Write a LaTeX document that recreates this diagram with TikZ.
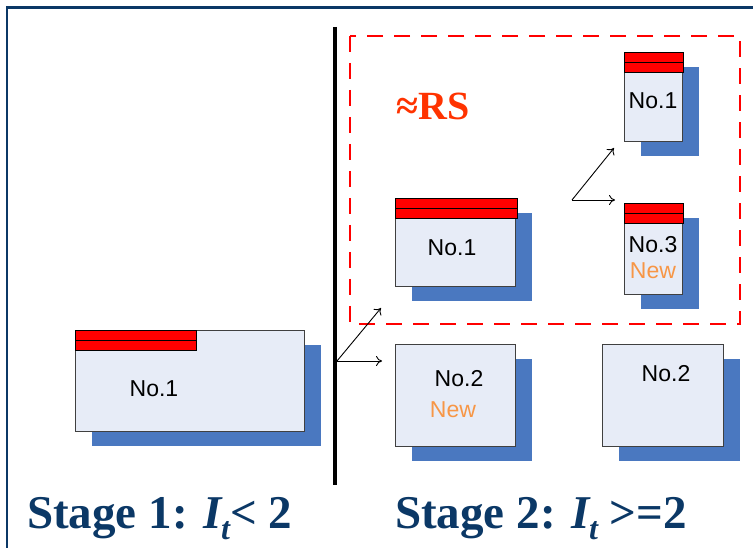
\documentclass[tikz,border=0pt]{standalone}
\usepackage{fontspec}
\setmainfont{Liberation Serif}
\newfontfamily\labelfont{Liberation Sans}
\usetikzlibrary{arrows.meta}
\definecolor{navy}{HTML}{0B3866}
\definecolor{cardfill}{HTML}{E7ECF7}
\definecolor{shadowblue}{HTML}{4A78C0}
\definecolor{neworange}{HTML}{F79646}
\definecolor{rsred}{HTML}{FF3300}

\tikzset{
  card/.style={draw=black!75, line width=0.8pt, fill=cardfill, inner sep=0pt},
  cardshadow/.style={fill=shadowblue},
  bar/.style={draw=black, line width=0.9pt, fill=red},
  lbl/.style={font=\labelfont\fontsize{23}{23}\selectfont, text=black, inner sep=0pt},
  newlbl/.style={lbl, text=neworange},
  arr/.style={-{To[length=6pt,width=10pt]}, line width=0.9pt},
  stagelbl/.style={font=\bfseries\fontsize{47}{47}\selectfont, text=navy, inner sep=0pt, anchor=base west},
}

% card: shadow offset down-right, then the light box on top
\newcommand\cardat[5]{%
  \fill[cardshadow] (#2+17,#3+15) rectangle ++(#4,#5);
  \node[card, anchor=north west, minimum width=#4pt, minimum height=#5pt] (#1) at (#2,#3) {};
}
% two stacked red bars on a card's top edge
\newcommand\redbars[3]{%
  \draw[bar] (#1,#3) rectangle (#2,#3+10);
  \draw[bar] (#1,#3+10) rectangle (#2,#3+20);
}
\newcommand\Isub{\textit{I}\kern-0.04em\raisebox{-0.25em}{\fontsize{32}{32}\selectfont\itshape t}}

\begin{document}
\begin{tikzpicture}[x=1pt,y=-1pt]
\useasboundingbox (0,0) rectangle (753,548);
\fill[white] (0,0) rectangle (753,548);

% outer frame, open to the right and bottom
\draw[navy, line width=2.7pt] (7,560) -- (7,7.5) -- (760,7.5);

% divider between the two stages
\coordinate (divtop) at (335,27);
\coordinate (divbot) at (335,485);
\draw[line width=3.5pt] (divtop) -- (divbot);

% dashed region
\draw[red, line width=2.2pt, dash pattern=on 16pt off 11pt] (350,36) rectangle (740,324);
\node[font=\bfseries\fontsize{40}{40}\selectfont, text=rsred, inner sep=0pt] (rs) at (433,106) {≈RS};

% stage 1
\cardat{s1}{75}{330}{229}{101}
\redbars{75}{196}{330}
\node[lbl] (s1t) at (154,389) {No.1};

% stage 2, inside the region
\cardat{m1}{395}{198}{120}{88}
\redbars{395}{517}{198}
\node[lbl] (m1t) at (452,248) {No.1};

\cardat{k1}{624}{52}{58}{89}
\redbars{624}{683}{52}
\node[lbl] (k1t) at (653,101) {No.1};

\cardat{k3}{624}{203}{58}{91}
\redbars{624}{683}{203}
\node[lbl] (k3t) at (653,245) {No.3};
\node[newlbl] (k3n) at (653,271) {New};

% stage 2, outside the region
\cardat{n2}{395}{344}{120}{102}
\node[lbl] (n2t) at (459,379) {No.2};
\node[newlbl] (n2n) at (453,410) {New};

\cardat{r2}{602}{344}{121}{102}
\node[lbl] (r2t) at (666,374) {No.2};

% split arrows
\coordinate (split) at (337,361);
\coordinate (toM) at (381,308);
\coordinate (toN) at (382,361);
\draw[arr] (split) -- (toM);
\draw[arr] (split) -- (toN);

\coordinate (fork) at (572,200);
\coordinate (toK1) at (614,148);
\coordinate (toK3) at (615,200);
\draw[arr] (fork) -- (toK1);
\draw[arr] (fork) -- (toK3);

% stage captions
\node[stagelbl] (cap1) at (27,528) {Stage 1: \Isub< 2};
\node[stagelbl] (cap2) at (395,528) {Stage 2: \Isub{} >=2};
\end{tikzpicture}
\end{document}
